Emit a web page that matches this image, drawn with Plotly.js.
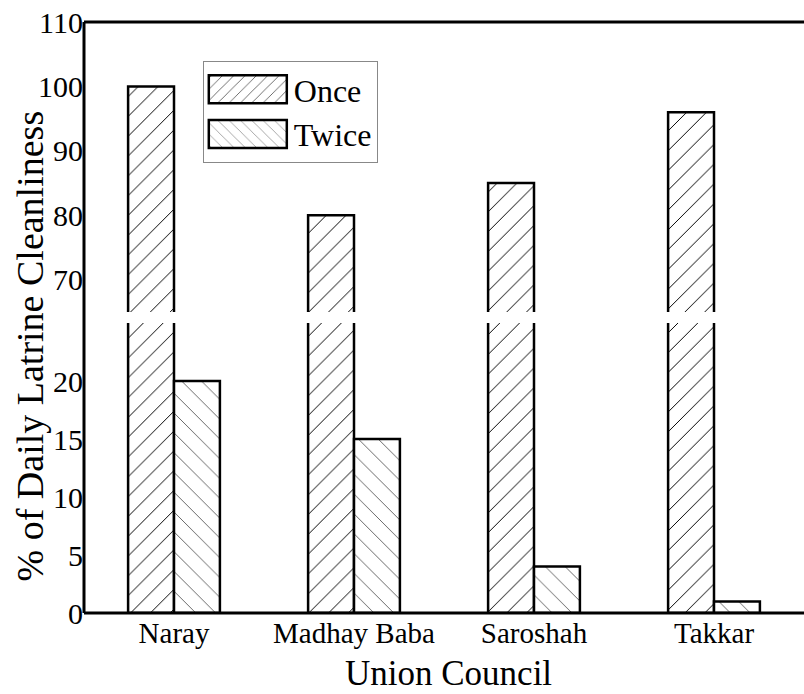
<!DOCTYPE html>
<html>
<head>
<meta charset="utf-8">
<script src="https://cdn.plot.ly/plotly-3.0.1.min.js"></script>
<style>html,body{margin:0;padding:0;background:#fff;}#chart{width:804px;height:694px;}</style>
</head>
<body>
<div id="chart"></div>
<script>
const categories = ["Naray", "Madhay Baba", "Saroshah", "Takkar"];
const onceValues = [100, 80, 85, 96];
const twiceValues = [20, 15, 4, 1];
const seriesNames = ["Once", "Twice"];
const lowerTicks = [0, 5, 10, 15, 20];
const upperTicks = [70, 80, 90, 100, 110];

const FONT = "'Liberation Serif', 'Times New Roman', serif";
const oncePattern = {shape: "/", size: 14, solidity: 0.07, fgcolor: "#000", bgcolor: "#fff", fillmode: "replace"};
const twicePattern = {shape: "\\", size: 14, solidity: 0.07, fgcolor: "#666", bgcolor: "#fff", fillmode: "replace"};
const outline = {color: "#000", width: 2.5};

const traces = [
  {type: "bar", x: categories, y: onceValues, name: seriesNames[0], xaxis: "x", yaxis: "y",
   marker: {color: "#fff", pattern: oncePattern, line: outline}, showlegend: true},
  {type: "bar", x: categories, y: twiceValues, name: seriesNames[1], xaxis: "x", yaxis: "y",
   marker: {color: "#fff", pattern: twicePattern, line: outline}, showlegend: true},
  {type: "bar", x: categories, y: onceValues, name: seriesNames[0], xaxis: "x2", yaxis: "y2",
   marker: {color: "#fff", pattern: oncePattern, line: outline}, showlegend: false},
  {type: "bar", x: categories, y: twiceValues, name: seriesNames[1], xaxis: "x2", yaxis: "y2",
   marker: {color: "#fff", pattern: twicePattern, line: outline}, showlegend: false}
];

const gap = 11 / 591;
const half = (1 - gap) / 2;

const layout = {
  width: 804, height: 694,
  margin: {l: 84, r: 0, t: 22, b: 81},
  paper_bgcolor: "#fff", plot_bgcolor: "rgba(0,0,0,0)",
  font: {family: FONT, color: "#000", size: 30},
  barmode: "group", bargap: 0.49, bargroupgap: 0,
  showlegend: true,
  legend: {x: 0.165, y: 0.934, xanchor: "left", yanchor: "top",
           bgcolor: "#fff", bordercolor: "#888", borderwidth: 1,
           font: {family: FONT, size: 32, color: "#000"}, itemwidth: 80,
           traceorder: "normal", tracegroupgap: 0},
  xaxis: {domain: [0, 1], anchor: "y", type: "category", range: [-0.5, 3.5],
          showline: false, ticks: "", showgrid: false, zeroline: false,
          tickfont: {family: FONT, size: 29}, ticklabelstandoff: 0},
  xaxis2: {domain: [0, 1], anchor: "y2", type: "category", range: [-0.5, 3.5],
           showticklabels: false, showline: false, ticks: "", showgrid: false, zeroline: false},
  yaxis: {domain: [0, half], anchor: "x", range: [0, 25], tickvals: lowerTicks,
          ticktext: lowerTicks.map(String), ticks: "", showgrid: false, zeroline: false,
          showline: false, tickfont: {family: FONT, size: 30}, ticklabelstandoff: 0},
  yaxis2: {domain: [1 - half, 1], anchor: "x2", range: [65, 110], tickvals: upperTicks,
           ticktext: upperTicks.map(String), ticks: "", showgrid: false, zeroline: false,
           showline: false, tickfont: {family: FONT, size: 30}, ticklabelstandoff: 0},
  shapes: [
    {type: "line", xref: "paper", yref: "paper", x0: 0, x1: 0, y0: 0, y1: 1, line: {color: "#000", width: 3}},
    {type: "line", xref: "paper", yref: "paper", x0: 0, x1: 1, y0: 1, y1: 1, line: {color: "#000", width: 3}},
    {type: "line", xref: "paper", yref: "paper", x0: 0, x1: 1, y0: 0, y1: 0, line: {color: "#000", width: 3}}
  ],
  annotations: [
    {text: "% of Daily Latrine Cleanliness", xref: "paper", yref: "paper", x: -0.075, y: 0.451,
     xanchor: "center", yanchor: "middle", textangle: -90, showarrow: false,
     font: {family: FONT, size: 38, color: "#000"}},
    {text: "Union Council", xref: "paper", yref: "paper", x: 0.506, y: -0.102,
     xanchor: "center", yanchor: "middle", showarrow: false,
     font: {family: FONT, size: 35, color: "#000"}}
  ]
};

Plotly.newPlot("chart", traces, layout, {staticPlot: true, displayModeBar: false}).then(function (gd) {
  // enlarge legend swatches to match the wide boxes of the reference
  gd.querySelectorAll(".legend .legendpoints path").forEach(function (p) {
    p.setAttribute("d", "M0,-14H78V14H0Z");
    p.setAttribute("transform", "translate(5,0)");
    p.style.strokeWidth = "2.5px";
    p.style.stroke = "#000";
  });
});
</script>
</body>
</html>
